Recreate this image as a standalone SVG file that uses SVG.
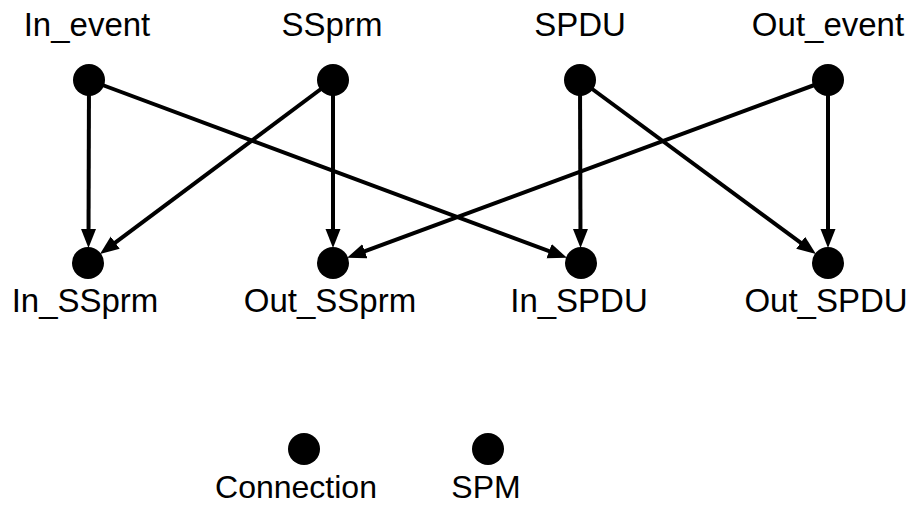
<svg xmlns="http://www.w3.org/2000/svg" width="915" height="506" viewBox="0 0 915 506">
<style>
.lbl{font-family:"Liberation Sans",Arial,sans-serif;font-size:33px;fill:#000;text-anchor:middle}
.leg{font-size:32px}
.dot{fill:#000}
.edge{stroke:#000;stroke-width:4;fill:none;marker-end:url(#ah)}
</style>
<defs>
<marker id="ah" markerUnits="userSpaceOnUse" markerWidth="20" markerHeight="16" refX="10" refY="7.5" orient="auto">
<path d="M0,0 L19,7.5 L0,15 z" fill="#000"/>
</marker>
</defs>
<rect width="915" height="506" fill="#fff"/>
<g id="connectors">
<line class="edge" x1="89" y1="80" x2="88.5" y2="239"/>
<line class="edge" x1="89" y1="80" x2="558.5" y2="254.6"/>
<line class="edge" x1="333" y1="80" x2="107.2" y2="248.6"/>
<line class="edge" x1="333" y1="80" x2="333" y2="239"/>
<line class="edge" x1="580" y1="80" x2="580.5" y2="239"/>
<line class="edge" x1="580" y1="80" x2="808.7" y2="248.7"/>
<line class="edge" x1="828" y1="80" x2="355.5" y2="254.7"/>
<line class="edge" x1="828" y1="80" x2="828" y2="239"/>
</g>
<g id="In_event"><circle class="dot" cx="89" cy="80" r="16"/><text class="lbl" x="87" y="36">In_event</text></g>
<g id="SSprm"><circle class="dot" cx="333" cy="80" r="16"/><text class="lbl" x="332" y="36">SSprm</text></g>
<g id="SPDU"><circle class="dot" cx="580" cy="80" r="16"/><text class="lbl" x="580" y="36">SPDU</text></g>
<g id="Out_event"><circle class="dot" cx="828" cy="80" r="16"/><text class="lbl" x="828" y="36">Out_event</text></g>
<g id="In_SSprm"><circle class="dot" cx="88" cy="263" r="16"/><text class="lbl" x="85" y="312">In_SSprm</text></g>
<g id="Out_SSprm"><circle class="dot" cx="333" cy="263" r="16"/><text class="lbl" x="330" y="312">Out_SSprm</text></g>
<g id="In_SPDU"><circle class="dot" cx="581" cy="263" r="16"/><text class="lbl" x="579" y="312">In_SPDU</text></g>
<g id="Out_SPDU"><circle class="dot" cx="828" cy="263" r="16"/><text class="lbl" x="826" y="312">Out_SPDU</text></g>
<g id="legend_connection"><circle class="dot" cx="304" cy="449" r="16"/><text class="lbl leg" x="296" y="498">Connection</text></g>
<g id="legend_spm"><circle class="dot" cx="488" cy="449" r="16"/><text class="lbl leg" x="486" y="498">SPM</text></g>
</svg>
